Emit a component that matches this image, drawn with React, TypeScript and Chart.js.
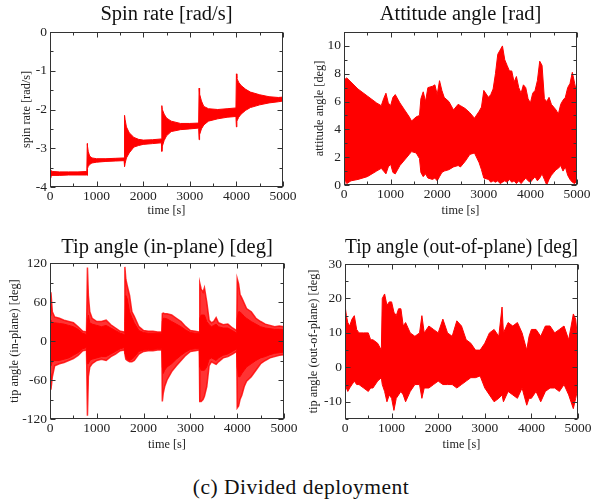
import React, { useEffect, useRef } from "react";
import { Chart, registerables } from "chart.js";
Chart.register(...registerables);

const FONT = "'Liberation Serif', 'Times New Roman', serif";
const RED = "#ff0000";
const RED_SPARSE = "rgba(255,0,0,0.8)";

// ---------- Spin rate [rad/s] (envelope of the oscillating band) ----------
const spinTime = [0, 20, 60, 200, 400, 600, 790, 800, 805, 820, 850, 900, 1000, 1200, 1400, 1590, 1600, 1610, 1640, 1700, 1800, 1900, 2000, 2200, 2390, 2400, 2410, 2450, 2500, 2600, 2800, 3000, 3190, 3200, 3210, 3250, 3300, 3400, 3600, 3800, 3990, 4000, 4010, 4050, 4100, 4200, 4300, 4500, 4700, 4900, 5000];
const spinUpper = [-3.57, -3.58, -3.6, -3.61, -3.61, -3.61, -3.6, -2.88, -2.95, -3.08, -3.2, -3.25, -3.27, -3.27, -3.26, -3.25, -2.15, -2.25, -2.45, -2.6, -2.72, -2.77, -2.79, -2.78, -2.76, -1.9, -2.0, -2.12, -2.22, -2.3, -2.36, -2.36, -2.35, -1.45, -1.6, -1.78, -1.92, -1.98, -2.0, -1.98, -1.96, -1.08, -1.2, -1.3, -1.38, -1.48, -1.55, -1.62, -1.67, -1.69, -1.68];
const spinLower = [-3.77, -3.72, -3.7, -3.7, -3.69, -3.69, -3.69, -3.7, -3.52, -3.47, -3.42, -3.38, -3.36, -3.34, -3.33, -3.32, -3.47, -3.4, -3.25, -3.12, -2.97, -2.93, -2.9, -2.88, -2.86, -3.08, -2.95, -2.8, -2.68, -2.57, -2.52, -2.5, -2.48, -2.78, -2.65, -2.5, -2.4, -2.3, -2.24, -2.2, -2.18, -2.45, -2.3, -2.2, -2.12, -2.02, -1.95, -1.88, -1.83, -1.8, -1.78];

// ---------- Attitude angle ----------
const attTime = [0, 20, 60, 150, 300, 500, 700, 800, 850, 900,
  950, 1000, 1050, 1100, 1200, 1300, 1400, 1450, 1550, 1620,
  1650, 1700, 1750, 1800, 1900, 1950, 2000, 2050, 2100, 2150,
  2250, 2350, 2450, 2500, 2600, 2700, 2800, 2900, 2950, 3000,
  3100, 3150, 3200, 3250, 3300, 3350, 3400, 3450, 3500, 3550,
  3600, 3650, 3700, 3750, 3800, 3850, 3900, 3950, 4000, 4050,
  4100, 4150, 4200, 4250, 4300, 4350, 4400, 4450, 4500, 4550,
  4600, 4650, 4700, 4750, 4800, 4850, 4900, 4950, 5000];
const attUpper = [7.0, 7.6, 7.7, 7.4, 6.9, 6.4, 5.9, 5.7, 6.2, 6.6,
  5.9, 5.7, 6.3, 6.5, 5.9, 5.4, 4.9, 4.6, 4.9, 5.0,
  6.2, 6.7, 6.0, 7.0, 7.1, 7.2, 6.5, 7.5, 6.8, 6.3,
  6.0, 5.4, 5.8, 5.7, 5.5, 5.2, 4.8, 5.3, 5.6, 6.8,
  6.3, 6.5, 6.9, 8.0, 9.4, 9.7, 10.0, 9.0, 8.6, 8.2,
  8.2, 7.4, 7.8, 7.0, 6.6, 7.2, 7.0, 6.2, 5.9, 6.6,
  6.8, 7.5, 8.9, 8.6, 6.2, 6.0, 6.3, 5.8, 5.6, 5.4,
  5.1, 5.8, 6.1, 6.3, 7.0, 7.3, 8.1, 7.3, 6.5];
const attLower = [0.0, 0.4, 0.1, 0.3, 0.4, 0.6, 1.0, 1.2, 1.0, 0.8,
  1.3, 1.5, 0.9, 0.8, 1.4, 1.8, 2.2, 2.4, 2.3, 1.9,
  0.9, 0.6, 0.8, 0.5, 0.4, 0.5, 0.3, 0.6, 0.9, 1.0,
  1.1, 1.3, 1.4, 1.3, 1.7, 2.2, 2.3, 1.6, 1.1, 0.5,
  0.4, 0.2, 0.3, 0.2, 0.3, 0.1, 0.2, 0.3, 0.2, 0.4,
  0.2, 0.3, 0.1, 0.3, 0.1, 0.3, 0.5, 0.3, 0.2, 0.4,
  0.6, 0.3, 0.5, 0.8, 0.4, 0.0, 0.4, 0.7, 0.9, 1.1,
  1.2, 1.4, 1.0, 1.3, 0.7, 0.4, 0.2, 0.1, 0.3];

// ---------- Tip angle (in-plane): dense core and sparse outer cloud ----------
const inTime = [0, 20, 50, 100, 200, 300, 400, 500, 600, 700,
  780, 800, 820, 850, 900, 1000, 1100, 1200, 1300, 1400,
  1500, 1590, 1600, 1620, 1650, 1700, 1750, 1800, 1900, 2000,
  2100, 2200, 2300, 2390, 2400, 2420, 2450, 2500, 2600, 2700,
  2800, 2900, 3000, 3100, 3190, 3200, 3230, 3270, 3300, 3350,
  3400, 3450, 3500, 3550, 3600, 3700, 3800, 3900, 3990, 4000,
  4030, 4060, 4100, 4150, 4200, 4300, 4400, 4500, 4600, 4700,
  4800, 4900, 5000];
const inOuterUpper = [40, 75, 45, 37, 35, 32, 30, 28, 22, 15,
  14, 113, 70, 45, 35, 30, 30, 32, 25, 20,
  15, 14, 114, 95, 85, 70, 45, 38, 22, 16,
  15, 15, 14, 14, 42, 43, 42, 42, 40, 35,
  30, 22, 16, 15, 14, 89, 80, 75, 82, 60,
  32, 28, 30, 36, 28, 25, 26, 20, 16, 96,
  88, 72, 66, 58, 50, 45, 35, 30, 26, 24,
  22, 23, 22];
const inOuterLower = [-50, -75, -55, -38, -35, -33, -30, -27, -22, -15,
  -14, -115, -55, -40, -35, -30, -28, -30, -24, -20,
  -15, -14, -20, -28, -30, -32, -32, -30, -20, -16,
  -15, -15, -14, -14, -93, -80, -70, -60, -47, -38,
  -30, -22, -16, -15, -14, -93, -93, -90, -85, -70,
  -38, -32, -34, -36, -32, -26, -24, -20, -16, -103,
  -100, -90, -83, -70, -62, -55, -45, -35, -30, -26,
  -24, -22, -21];
const inCoreUpper = [25, 32, 28, 28, 27, 26, 24, 22, 18, 12,
  10, 30, 40, 28, 26, 24, 22, 24, 20, 16,
  12, 10, 30, 70, 65, 45, 36, 28, 16, 13,
  12, 12, 12, 12, 30, 35, 35, 34, 30, 26,
  22, 17, 13, 12, 12, 35, 40, 40, 40, 30,
  25, 22, 24, 26, 22, 20, 20, 16, 12, 35,
  45, 45, 42, 38, 35, 30, 26, 22, 20, 19,
  18, 18, 17];
const inCoreLower = [-30, -38, -32, -30, -30, -28, -26, -22, -18, -12,
  -10, -35, -35, -30, -28, -26, -24, -24, -20, -16,
  -12, -10, -15, -24, -28, -30, -28, -25, -16, -14,
  -13, -13, -12, -12, -40, -50, -45, -40, -35, -28,
  -22, -17, -13, -12, -12, -40, -45, -45, -45, -40,
  -28, -26, -28, -30, -26, -22, -20, -16, -12, -40,
  -55, -55, -50, -45, -40, -35, -30, -26, -24, -21,
  -19, -18, -17];

// ---------- Tip angle (out-of-plane) ----------
const outTime = [0, 30, 60, 100, 150, 200, 250, 300, 400, 500,
  550, 600, 700, 780, 800, 850, 900, 950, 1000, 1050,
  1100, 1150, 1200, 1250, 1300, 1400, 1500, 1600, 1650, 1700,
  1800, 1900, 2000, 2100, 2200, 2300, 2400, 2500, 2600, 2700,
  2800, 2900, 3000, 3100, 3200, 3300, 3370, 3400, 3500, 3600,
  3700, 3800, 3900, 3950, 4000, 4100, 4200, 4300, 4400, 4500,
  4600, 4700, 4800, 4900, 4950, 5000];
const outUpper = [18, 15, 13, 12, 14, 15, 11, 10, 10, 10,
  8, 8, 7, 5, 20, 21.3, 18, 19, 19, 16,
  15, 17, 17, 12, 13, 10, 9, 10, 15, 10,
  12, 11, 10, 14, 10, 9, 13.5, 12, 8, 7,
  5, 5, 7, 10, 11, 9, 17.5, 10, 13, 12,
  13, 10, 5, 9, 11, 11, 9, 12, 12, 10,
  11, 12, 8, 15.5, 14, 7];
const outLower = [-5, -6, -7, -6, -5, -4, -5, -5, -6, -7,
  -6, -6, -4, -3, -5, -7, -10, -8, -9, -12.5,
  -9, -8, -7, -8, -10, -7, -5, -5, -9, -6,
  -6, -5, -4, -5, -5, -5, -6, -5, -4, -3,
  -3, -2.5, -6, -8, -10, -9, -8, -10, -7, -8,
  -9, -6, -11, -9, -9, -7, -10, -7, -6, -6,
  -7, -5, -8, -12, -9, -6];

const xy = (t: number[], v: number[]) => t.map((x, i) => ({ x, y: v[i] }));

const frameTicks = {
  id: "frameTicks",
  afterDatasetsDraw(chart: any, _args: any, opts: any) {
    const { ctx, chartArea: a, scales } = chart;
    const L = Math.round(a.left) + 0.5, R = Math.round(a.right) - 0.5;
    const T = Math.round(a.top) + 0.5, B = Math.round(a.bottom) - 0.5;
    ctx.save();
    ctx.strokeStyle = "#333";
    ctx.lineWidth = 1;
    ctx.beginPath();
    const xs = scales.x, ys = scales.y;
    for (let v = xs.min; v <= xs.max + 1e-9; v += opts.xMinor) {
      const major = Math.abs(v / opts.xMajor - Math.round(v / opts.xMajor)) < 1e-6;
      const len = major ? 5 : 3;
      const px = Math.round(xs.getPixelForValue(v)) + 0.5;
      ctx.moveTo(px, B); ctx.lineTo(px, B - len);
      ctx.moveTo(px, T); ctx.lineTo(px, T + len);
    }
    for (let v = ys.min; v <= ys.max + 1e-9; v += opts.yMinor) {
      const major = Math.abs(v / opts.yMajor - Math.round(v / opts.yMajor)) < 1e-6;
      const len = major ? 5 : 3;
      const py = Math.round(ys.getPixelForValue(v)) + 0.5;
      ctx.moveTo(L, py); ctx.lineTo(L + len, py);
      ctx.moveTo(R, py); ctx.lineTo(R - len, py);
    }
    ctx.stroke();
    ctx.strokeRect(L, T, R - L, B - T);
    ctx.restore();
  },
};

type Band = { t: number[]; hi: number[]; lo: number[]; color: string; width: number };
type PanelDef = {
  left: number; top: number; w: number; h: number;
  title: string; yLabel: string;
  yMin: number; yMax: number; yStep: number; yMinor: number;
  yW: number; xH: number; padR: number;
  tTop: number; tBot: number; yTitlePad: number; xTitlePad: number;
  bands: Band[];
};

const panels: PanelDef[] = [
  {
    left: 0, top: 0, w: 300, h: 230,
    title: "Spin rate [rad/s]", yLabel: "spin rate [rad/s]",
    yMin: -4, yMax: 0, yStep: 1, yMinor: 0.5,
    yW: 50, xH: 43, padR: 17, tTop: 2.8, tBot: 4.6, yTitlePad: 19.8, xTitlePad: 11.5,
    bands: [{ t: spinTime, hi: spinUpper, lo: spinLower, color: RED, width: 1 }],
  },
  {
    left: 300, top: 0, w: 302, h: 230,
    title: "Attitude angle [rad]", yLabel: "attitude angle [deg]",
    yMin: 0, yMax: 11, yStep: 2, yMinor: 1,
    yW: 44, xH: 45, padR: 25, tTop: 2.8, tBot: 4.6, yTitlePad: 12.8, xTitlePad: 11.5,
    bands: [{ t: attTime, hi: attUpper, lo: attLower, color: RED, width: 1 }],
  },
  {
    left: 0, top: 230, w: 300, h: 230,
    title: "Tip angle (in-plane) [deg]", yLabel: "tip angle (in-plane) [deg]",
    yMin: -120, yMax: 120, yStep: 60, yMinor: 30,
    yW: 50, xH: 41, padR: 16, tTop: 5.8, tBot: 2.6, yTitlePad: 7.8, xTitlePad: 7.5,
    bands: [
      { t: inTime, hi: inCoreUpper, lo: inCoreLower, color: RED, width: 1 },
      { t: inTime, hi: inOuterUpper, lo: inOuterLower, color: RED_SPARSE, width: 1.5 },
    ],
  },
  {
    left: 300, top: 230, w: 302, h: 230,
    title: "Tip angle (out-of-plane) [deg]", yLabel: "tip angle (out-of-plane) [deg]",
    yMin: -15, yMax: 30, yStep: 10, yMinor: 5,
    yW: 45, xH: 41, padR: 24, tTop: 5.8, tBot: 3.6, yTitlePad: 6.8, xTitlePad: 7.5,
    bands: [{ t: outTime, hi: outUpper, lo: outLower, color: RED, width: 1 }],
  },
];

function PanelChart({ p }: { p: PanelDef }) {
  const ref = useRef<HTMLCanvasElement>(null);
  useEffect(() => {
    if (!ref.current) return;
    const datasets: any[] = [];
    p.bands.forEach((b) => {
      datasets.push({
        data: xy(b.t, b.hi), borderColor: b.color, backgroundColor: b.color,
        borderWidth: b.width, pointRadius: 0, fill: "+1", tension: 0,
      });
      datasets.push({
        data: xy(b.t, b.lo), borderColor: b.color, backgroundColor: b.color,
        borderWidth: b.width, pointRadius: 0, fill: false, tension: 0,
      });
    });
    const tickFont = { family: FONT, size: 13.5 };
    const axisTitleFont = { family: FONT, size: 12.3, lineHeight: 1.2 };
    const chart = new Chart(ref.current, {
      type: "line",
      data: { datasets },
      plugins: [frameTicks as any],
      options: {
        animation: false,
        responsive: false,
        devicePixelRatio: 1,
        layout: { padding: { left: 0, right: p.padR, top: 0, bottom: 0 } },
        plugins: {
          legend: { display: false },
          tooltip: { enabled: false },
          title: {
            display: true, text: p.title, fullSize: false, color: "#111",
            font: { family: FONT, size: 20.5, weight: "normal", lineHeight: 1.2 },
            padding: { top: p.tTop, bottom: p.tBot },
          },
          frameTicks: { xMinor: 500, xMajor: 1000, yMinor: p.yMinor, yMajor: p.yStep },
        } as any,
        scales: {
          x: {
            type: "linear", min: 0, max: 5000,
            grid: { display: false, drawTicks: false },
            border: { display: false },
            ticks: {
              stepSize: 1000, autoSkip: false, maxRotation: 0, color: "#222", font: tickFont,
              padding: 1, includeBounds: false, callback: (v: any) => String(v),
            },
            title: { display: true, text: "time [s]", color: "#222", font: axisTitleFont, padding: { top: 0, bottom: p.xTitlePad } },
            afterFit: (s: any) => { s.height = p.xH; },
          },
          y: {
            type: "linear", min: p.yMin, max: p.yMax,
            grid: { display: false, drawTicks: false },
            border: { display: false },
            ticks: {
              stepSize: p.yStep, autoSkip: false, color: "#222", font: tickFont,
              padding: 3, includeBounds: false, callback: (v: any) => String(v),
            },
            title: { display: true, text: p.yLabel, color: "#222", font: axisTitleFont, padding: { top: p.yTitlePad, bottom: 0 } },
            afterFit: (s: any) => { s.width = p.yW; },
          },
        },
      } as any,
    });
    return () => chart.destroy();
  }, [p]);
  return (
    <canvas
      ref={ref}
      width={p.w}
      height={p.h}
      style={{ position: "absolute", left: p.left, top: p.top, width: p.w, height: p.h }}
    />
  );
}

export default function App() {
  return (
    <div style={{ position: "fixed", left: 0, top: 0, width: 602, height: 503, background: "#fff", overflow: "hidden" }}>
      {panels.map((p, i) => (
        <PanelChart key={i} p={p} />
      ))}
      <div
        style={{
          position: "absolute", left: 0, top: 474, width: 602, textAlign: "center",
          fontFamily: FONT, fontSize: 21.5, letterSpacing: "0.5px", lineHeight: "26px", color: "#111",
        }}
      >
        (c) Divided deployment
      </div>
    </div>
  );
}
